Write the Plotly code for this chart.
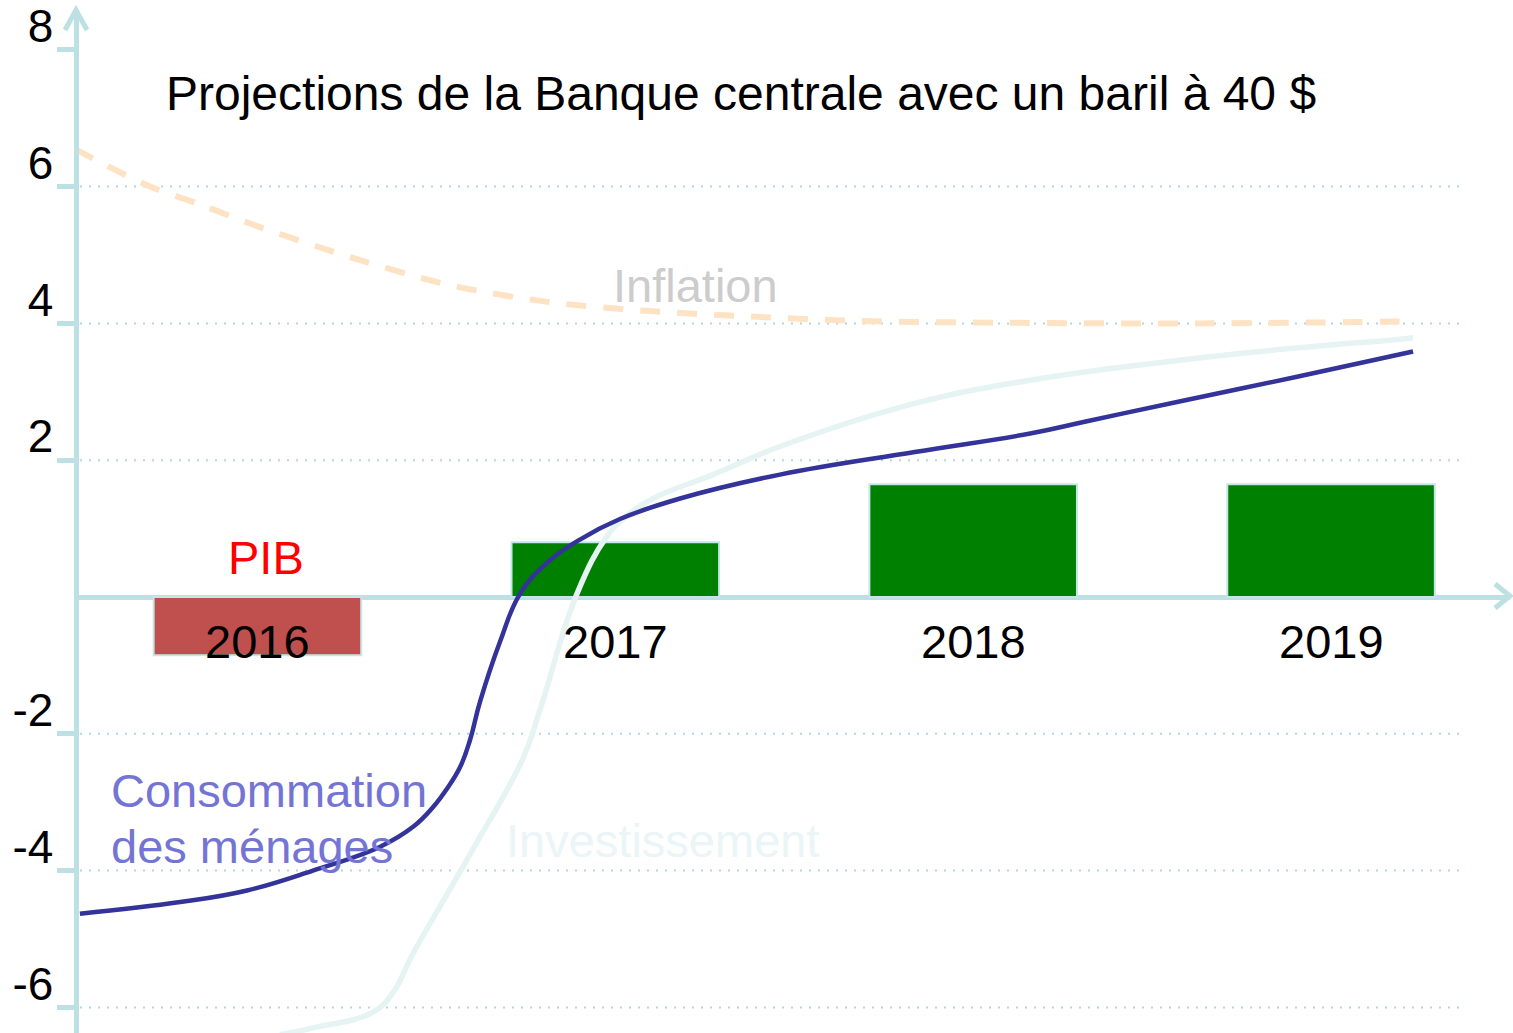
import plotly.graph_objects as go

W, H = 1513, 1033
FONT = "Liberation Sans, Arial, Helvetica, sans-serif"
AX = "#BCE0E3"
GRID = "#AED9DE"

# ---------------- data ----------------
years = [2016, 2017, 2018, 2019]
year_labels = ["2016", "2017", "2018", "2019"]
pib = [-0.85, 0.8, 1.65, 1.65]
pib_colors = ["#C0504D", "#008000", "#008000", "#008000"]

conso_x = [2015.504, 2015.784, 2015.971, 2016.155, 2016.343, 2016.435, 2016.491,
           2016.530, 2016.566, 2016.594, 2016.622, 2016.678, 2016.734, 2016.809,
           2016.901, 2017.013, 2017.181, 2017.460, 2017.837, 2018.159, 2018.318,
           2018.586, 2018.905, 2019.229]
conso_y = [-4.63, -4.46, -4.29, -4.0, -3.65, -3.36, -3.07, -2.8, -2.49, -2.09,
           -1.53, -0.65, 0.05, 0.5, 0.84, 1.14, 1.44, 1.79, 2.12, 2.39, 2.57,
           2.87, 3.22, 3.59]

inv_x = [2016.063, 2016.155, 2016.323, 2016.379, 2016.435, 2016.602, 2016.742,
         2016.790, 2016.893, 2016.977, 2017.033, 2017.105, 2017.273, 2017.460,
         2017.837, 2018.159, 2018.477, 2018.799, 2019.193, 2019.229]
inv_y = [-6.4, -6.30, -6.07, -5.78, -5.21, -3.69, -2.36, -1.64, 0.05, 0.89,
         1.19, 1.44, 1.79, 2.2, 2.83, 3.17, 3.4, 3.59, 3.77, 3.79]

infl_x = [2015.490, 2015.700, 2015.840, 2015.979, 2016.259, 2016.538, 2016.818,
          2017.097, 2017.376, 2017.656, 2018.075, 2018.634, 2019.229]
infl_y = [6.55, 6.0, 5.74, 5.46, 4.97, 4.56, 4.31, 4.18, 4.10, 4.04, 4.01, 4.0, 4.03]

y_ticks = [8, 6, 4, 2, -2, -4, -6]
y_tick_labels = ["8", "6", "4", "2", "-2", "-4", "-6"]
grid_values = [6, 4, 2, -2, -4, -6]

title_text = "Projections de la Banque centrale avec un baril à 40 $"

# ---------------- figure ----------------
fig = go.Figure()

fig.add_trace(go.Bar(
    x=years, y=pib, width=0.58,
    marker=dict(color=pib_colors, line=dict(color="#C5E6E8", width=2)),
    hoverinfo="skip"))

fig.add_trace(go.Scatter(
    x=infl_x, y=infl_y, mode="lines",
    line=dict(color="#FDE3C4", width=6, dash="20px,17px", shape="spline", smoothing=0.9),
    hoverinfo="skip"))

fig.add_trace(go.Scatter(
    x=inv_x, y=inv_y, mode="lines",
    line=dict(color="#E6F3F3", width=5.5, shape="spline", smoothing=1.2),
    hoverinfo="skip"))

fig.add_trace(go.Scatter(
    x=conso_x, y=conso_y, mode="lines",
    line=dict(color="#33339A", width=4.5, shape="spline", smoothing=1.2),
    hoverinfo="skip"))

shapes = []
for v in grid_values:
    shapes.append(dict(type="line", xref="paper", yref="y",
                       x0=80 / W, x1=1460 / W, y0=v, y1=v,
                       line=dict(color=GRID, width=2, dash="2px,7px"),
                       layer="below"))
# arrow heads of the axes
def p(px, py):
    return f"{px / W:.5f},{1 - py / H:.5f}"
shapes.append(dict(type="path", xref="paper", yref="paper",
                   path=f"M {p(65, 30)} L {p(76, 10)} L {p(87, 30)}",
                   line=dict(color=AX, width=5)))
shapes.append(dict(type="path", xref="paper", yref="paper",
                   path=f"M {p(1495, 584)} L {p(1510, 596)} L {p(1495, 608)}",
                   line=dict(color=AX, width=5)))

annotations = []
def txt(text, px, py, color, anchor="left", size=47):
    annotations.append(dict(text=text, xref="paper", yref="paper",
                            x=px / W, y=1 - py / H, xanchor=anchor, yanchor="middle",
                            showarrow=False, font=dict(family=FONT, size=size, color=color)))

txt(title_text, 164, 93, "black", size=48)
txt("Inflation", 611, 285, "#CCCCCC")
txt("PIB", 266, 557, "#FF0000", anchor="center")
txt("Consommation", 109, 790, "#7474D4")
txt("des ménages", 109, 846, "#7474D4")
txt("Investissement", 504, 840, "#E9F5F6")

for yr, lab in zip(years, year_labels):
    annotations.append(dict(text=lab, x=yr, y=0, xref="x", yref="y",
                            yshift=-44, xanchor="center", yanchor="middle",
                            showarrow=False, font=dict(family=FONT, size=47, color="black")))

fig.update_layout(
    width=W, height=H,
    margin=dict(l=0, r=0, t=0, b=0, autoexpand=False),
    plot_bgcolor="white", paper_bgcolor="white",
    showlegend=False,
    font=dict(family=FONT, size=46, color="black"),
    shapes=shapes, annotations=annotations,
    xaxis=dict(domain=[78.5 / W, 1510 / W], range=[2015.5, 2019.5],
               visible=False, fixedrange=True, automargin=False),
    yaxis=dict(domain=[0, 1 - 10 / H], range=[-6.374, 8.582], anchor="x",
               automargin=False,
               showline=True, linecolor=AX, linewidth=5,
               ticks="outside", ticklen=17, tickwidth=5, tickcolor=AX,
               tickvals=y_ticks, ticktext=y_tick_labels,
               tickfont=dict(family=FONT, size=46, color="black"),
               ticklabelshift=-24, ticklabelstandoff=-6,
               ticklabeloverflow="allow",
               showgrid=False, zeroline=True, zerolinecolor=AX, zerolinewidth=5,
               fixedrange=True),
)

fig.write_html("out.html", config={"displayModeBar": False},
               post_script="document.body.style.margin='0';document.body.style.padding='0';")
